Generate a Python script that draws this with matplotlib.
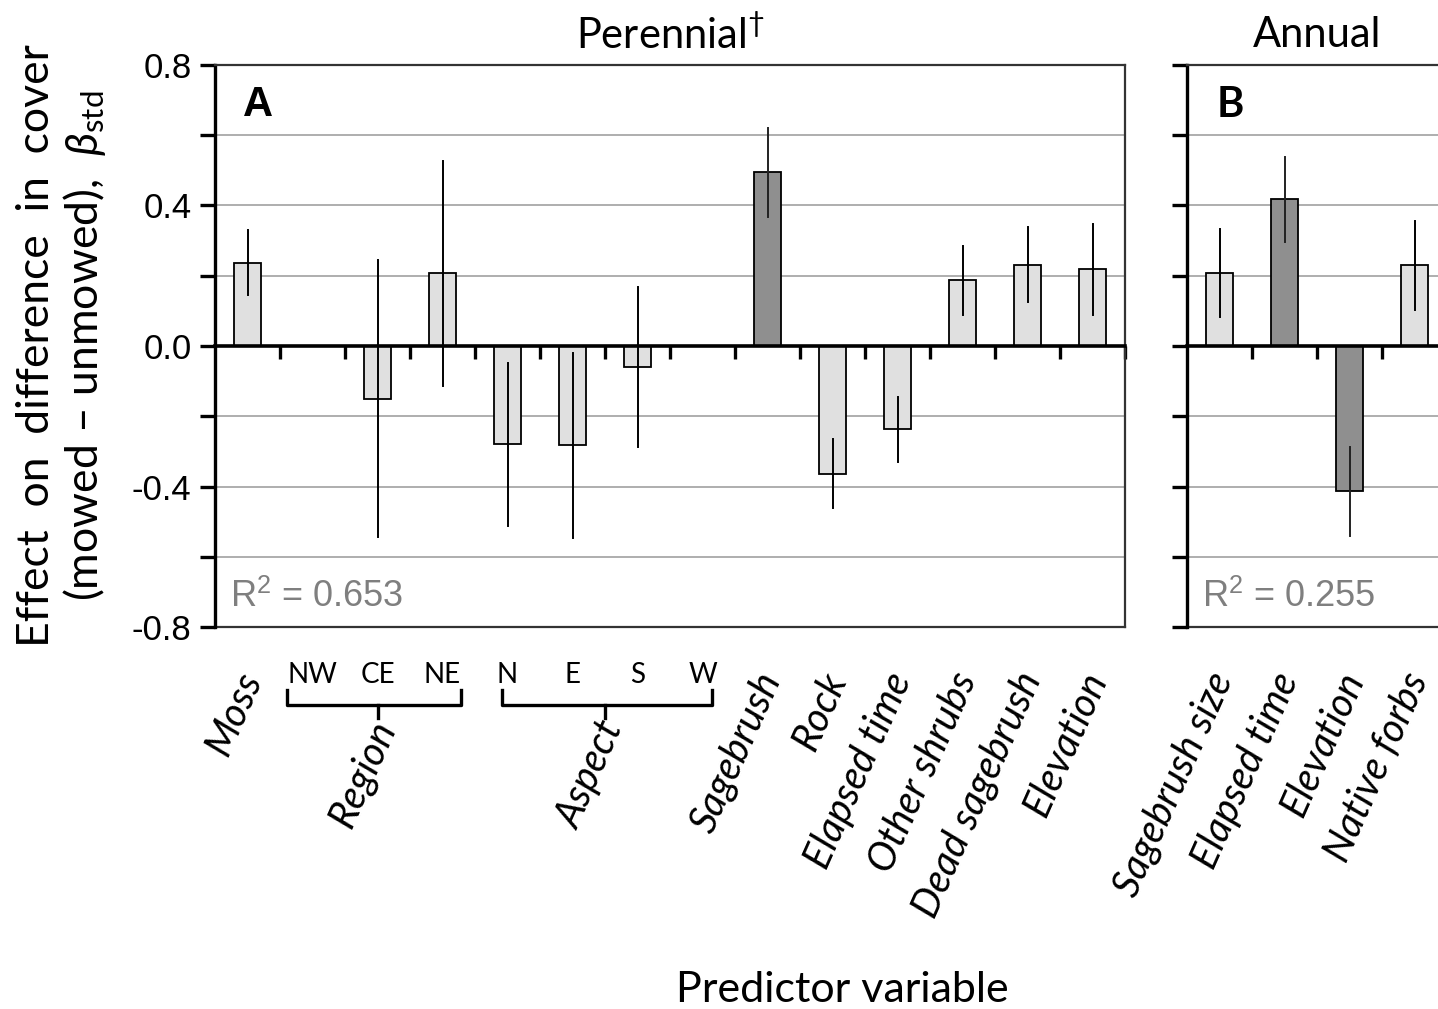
import matplotlib
matplotlib.use("Agg")
import matplotlib.pyplot as plt
import numpy as np

# standardised coefficients (beta_std) and their error bars, perennial model
cats_a = ['Moss', 'NW', 'CE', 'NE', 'N', 'E', 'S', 'W', 'Sagebrush', 'Rock',
          'Elapsed time', 'Other shrubs', 'Dead sagebrush', 'Elevation']
beta_a = [0.237, np.nan, -0.150, 0.207, -0.280, -0.283, -0.060, np.nan,
          0.494, -0.363, -0.237, 0.187, 0.231, 0.218]
err_a = [0.092, np.nan, 0.395, 0.320, 0.232, 0.264, 0.228, np.nan,
         0.126, 0.097, 0.092, 0.099, 0.107, 0.130]
sig_a = [False, False, False, False, False, False, False, False,
         True, False, False, False, False, False]

# annual model
cats_b = ['Sagebrush size', 'Elapsed time', 'Elevation', 'Native forbs']
beta_b = [0.208, 0.418, -0.414, 0.230]
err_b = [0.125, 0.121, 0.127, 0.127]
sig_b = [False, True, True, False]

r2_a = 0.653
r2_b = 0.255

# factor levels shown above a bracket instead of as rotated names
groups_a = [('Region', [1, 2, 3]), ('Aspect', [4, 5, 6, 7])]

LIGHT = '#e0e0e0'
DARK = '#8f8f8f'
GRID = '#a8a8a8'
FRAME = '#333333'

sans = ['Lato', 'DejaVu Sans']
arial = ['Liberation Sans', 'DejaVu Sans']

plt.rcParams['font.family'] = sans
plt.rcParams['mathtext.fontset'] = 'custom'
plt.rcParams['mathtext.rm'] = 'Lato'
plt.rcParams['mathtext.it'] = 'Lato:italic'
plt.rcParams['mathtext.sf'] = 'Liberation Sans'

W, H = 1438, 1009
fig = plt.figure(figsize=(W / 100, H / 100), dpi=100)


def px_box(left, right, top, bottom):
    return [left / W, (H - bottom) / H, (right - left) / W, (bottom - top) / H]


ax_a = fig.add_axes(px_box(215, 1125, 65, 627))
ax_b = fig.add_axes(px_box(1187, 1447, 65, 627))


def panel(ax, cats, beta, err, sig, letter, title, r2, letter_font, ylabels):
    n = len(cats)
    x = np.arange(n)
    ax.set_xlim(-0.5, n - 0.5)
    ax.set_ylim(-0.8, 0.8)

    for g in [-0.6, -0.4, -0.2, 0.2, 0.4, 0.6]:
        ax.axhline(g, color=GRID, lw=1.3, zorder=0)
    ax.axhline(-0.8, color=FRAME, lw=1.6, zorder=1, clip_on=False)

    for i in range(n):
        if np.isnan(beta[i]):
            continue
        ax.bar(x[i], beta[i], width=0.42, color=DARK if sig[i] else LIGHT,
               edgecolor='black', linewidth=1.3, zorder=2)
        ax.plot([x[i], x[i]], [beta[i] - err[i], beta[i] + err[i]],
                color='black' if not sig[i] else '#222222', lw=1.4, zorder=3)

    for s in ['top', 'right']:
        ax.spines[s].set_color(FRAME)
        ax.spines[s].set_linewidth(1.6)
    ax.spines['left'].set_linewidth(2.4)
    ax.spines['bottom'].set_position(('data', 0))
    ax.spines['bottom'].set_linewidth(2.6)
    ax.spines['bottom'].set_zorder(4)

    ax.set_xticks(np.arange(0.5, n, 1.0))
    ax.set_xticklabels([])
    ax.tick_params(axis='x', direction='out', length=9, width=2.4)

    ax.set_yticks([-0.8, -0.4, 0.0, 0.4, 0.8])
    ax.set_yticks([-0.6, -0.2, 0.2, 0.6], minor=True)
    ax.tick_params(axis='y', which='both', direction='out', length=11, width=2.4)
    if ylabels:
        ax.set_yticklabels(['-0.8', '-0.4', '0.0', '0.4', '0.8'])
        for t in ax.get_yticklabels():
            t.set_family(arial)
            t.set_fontsize(25)
        ax.tick_params(axis='y', pad=6)
    else:
        ax.set_yticklabels([])

    ax.text(0.16, 0.686, letter, fontsize=30, fontweight='bold',
            family=letter_font, ha='center', va='center')
    ax.text(-0.27, -0.715, r'R$^{\mathsf{2}}$ = %.3f' % r2, family=arial,
            fontsize=26, color='#7f7f7f', ha='left', va='center')
    ax.text((n - 1) / 2, 0.885, title, fontsize=30, ha='center', va='center',
            clip_on=False)


panel(ax_a, cats_a, beta_a, err_a, sig_a, 'A', r'Perennial$^{\dagger}$', r2_a,
      arial, True)
panel(ax_b, cats_b, beta_b, err_b, sig_b, 'B', 'Annual', r2_b, sans, False)

ROT = 66
LAB_Y = -0.935
LAB_SIZE = 28.5

# rotated names for plain variables
grouped = [i for _, idx in groups_a for i in idx]
for i, name in enumerate(cats_a):
    if i in grouped:
        continue
    ax_a.text(i + 0.06, LAB_Y, name, rotation=ROT, rotation_mode='anchor',
              ha='right', va='center', fontsize=LAB_SIZE, style='italic',
              clip_on=False)
for i, name in enumerate(cats_b):
    ax_b.text(i + 0.06, LAB_Y, name, rotation=ROT, rotation_mode='anchor',
              ha='right', va='center', fontsize=LAB_SIZE, style='italic',
              clip_on=False)

# factor levels with a bracket and the factor name below
for gname, idx in groups_a:
    for i in idx:
        ax_a.text(i, -0.937, cats_a[i], ha='center', va='center',
                  fontsize=20, clip_on=False)
    lo, hi = idx[0], idx[-1]
    left = lo - (0.4 if gname == 'Region' else 0.08)
    right = hi + (0.28 if gname == 'Region' else 0.14)
    mid = (lo + hi) / 2
    ax_a.plot([left, left, right, right], [-0.979, -1.022, -1.022, -0.979],
              color='black', lw=2.4, clip_on=False, solid_joinstyle='round')
    ax_a.plot([mid, mid], [-1.022, -1.06], color='black', lw=2.4,
              clip_on=False)
    ax_a.text(mid + 0.12, -1.075, gname, rotation=ROT, rotation_mode='anchor',
              ha='right', va='center', fontsize=LAB_SIZE, style='italic',
              clip_on=False)

ax_a.set_ylabel('Effect  on  difference  in  cover\n'
                r'(mowed – unmowed),  $\beta_{\rm std}$',
                fontsize=32, linespacing=1.1, labelpad=17)

fig.text(842 / W, 1 - 990 / H, 'Predictor variable', fontsize=31,
         ha='center', va='center')

fig.savefig('out.png', dpi=100)
